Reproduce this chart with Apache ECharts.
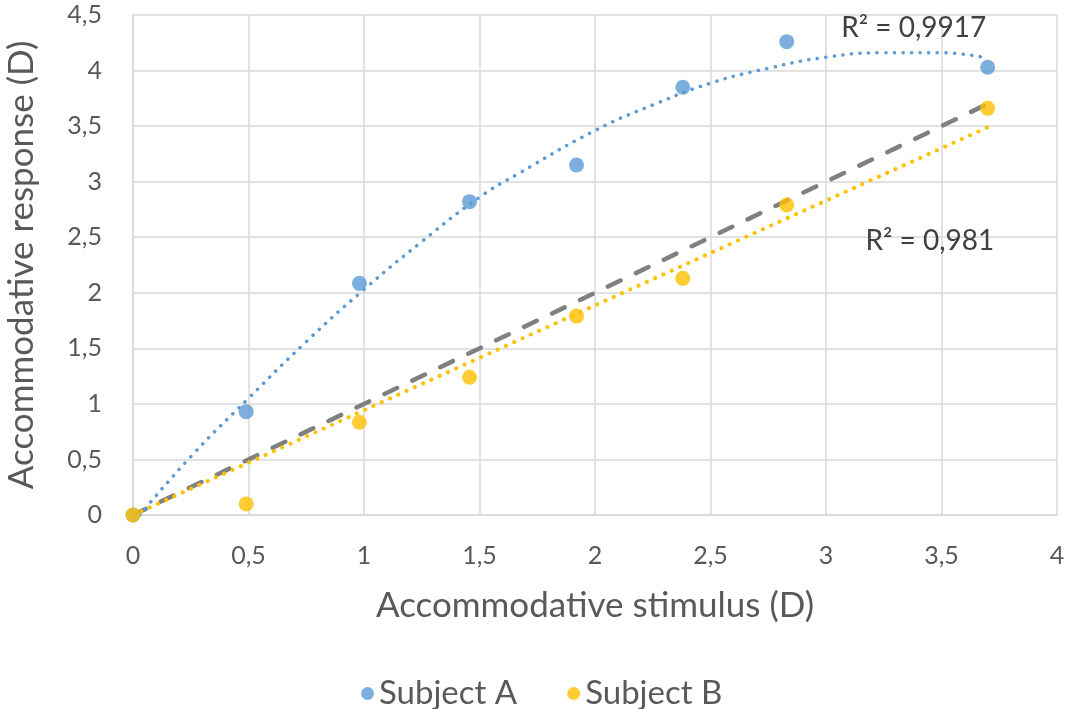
<!DOCTYPE html>
<html>
<head>
<meta charset="utf-8">
<script src="https://cdn.jsdelivr.net/npm/echarts@6/dist/echarts.min.js"></script>
<style>
html,body{margin:0;padding:0;background:#fff;}
#c{width:1066px;height:709px;}
</style>
</head>
<body>
<div id="c"></div>
<script>
// Data
const subjectA = [[0,0],[0.49,0.93],[0.98,2.085],[1.457,2.82],[1.92,3.15],[2.38,3.85],[2.83,4.26],[3.70,4.03]];
const subjectB = [[0,0],[0.49,0.10],[0.98,0.835],[1.457,1.24],[1.92,1.79],[2.38,2.13],[2.83,2.79],[3.70,3.66]];
const trendA = [[0.03,0.0],[0.25,0.525],[0.5,1.05],[0.75,1.56],[1.0,2.03],[1.25,2.46],[1.5,2.86],[1.675,3.08],[2.0,3.46],[2.25,3.69],[2.5,3.886],[2.75,4.02],[3.0,4.12],[3.25,4.16],[3.5,4.16],[3.7,4.11]];
const trendB = [[0,0],[3.7,3.49]];
const unityLine = [[0,0],[3.7,3.7]];
const r2A = 'R² = 0,9917';
const r2B = 'R² = 0,981';
const labelPosA = [3.38, 4.38];
const labelPosB = [3.45, 2.47];

const FONT = 'Lato, "Open Sans", sans-serif';
const fmt = v => String(v).replace('.', ',');

const chart = echarts.init(document.getElementById('c'), null, {renderer:'canvas'});
chart.setOption({
  animation:false,
  backgroundColor:'#fff',
  grid:{left:133,right:9,top:15,bottom:194,containLabel:false,outerBoundsMode:'none'},
  xAxis:{
    type:'value',min:0,max:4,interval:0.5,
    name:'Accommodative stimulus (D)',nameLocation:'middle',nameGap:73,
    nameTextStyle:{fontFamily:FONT,fontSize:35,color:'#595959'},
    axisLine:{show:true,lineStyle:{color:'#d9d9d9',width:1.5}},
    axisTick:{show:false},
    axisLabel:{formatter:fmt,fontFamily:FONT,fontSize:25,color:'#595959',margin:28},
    splitLine:{show:true,lineStyle:{color:'#d9d9d9',width:1.5}}
  },
  yAxis:{
    type:'value',min:0,max:4.5,interval:0.5,
    name:'Accommodative response (D)',nameLocation:'middle',nameGap:94,
    nameTextStyle:{fontFamily:FONT,fontSize:35,color:'#595959'},
    axisLine:{show:true,lineStyle:{color:'#d9d9d9',width:1.5}},
    axisTick:{show:false},
    axisLabel:{formatter:fmt,fontFamily:FONT,fontSize:25,color:'#595959',margin:31},
    splitLine:{show:true,lineStyle:{color:'#d9d9d9',width:1.5}}
  },
  legend:{
    data:['Subject A','Subject B'],top:672,left:356,
    icon:'circle',itemWidth:13,itemHeight:13,itemGap:50,
    textStyle:{fontFamily:FONT,fontSize:33,color:'#595959'}
  },
  series:[
    {name:'unity',type:'line',data:unityLine,symbol:'none',z:2,
     lineStyle:{color:'#808080',width:4.5,type:[14,17],cap:'round'}},
    {name:'trendA',type:'line',data:trendA,symbol:'none',smooth:true,z:2,
     lineStyle:{color:'#5b9bd5',width:3.5,type:[0.1,8.5],cap:'round'}},
    {name:'trendB',type:'line',data:trendB,symbol:'none',z:2,
     lineStyle:{color:'#ffc000',width:4,type:[0.1,9],cap:'round'}},
    {name:'Subject A',type:'scatter',data:subjectA,symbol:'circle',symbolSize:15,z:3,
     itemStyle:{color:'#5b9bd5'}},
    {name:'Subject B',type:'scatter',data:subjectB,symbol:'circle',symbolSize:15,z:3,
     itemStyle:{color:'#ffc000'}}
  ]
});
const pA = chart.convertToPixel({gridIndex:0}, labelPosA);
const pB = chart.convertToPixel({gridIndex:0}, labelPosB);
chart.setOption({
  graphic:[
    {type:'text',x:pA[0],y:pA[1],z:10,style:{text:r2A,fontFamily:FONT,fontSize:28,fill:'#404040',align:'center',verticalAlign:'middle'}},
    {type:'text',x:pB[0],y:pB[1],z:10,style:{text:r2B,fontFamily:FONT,fontSize:28,fill:'#404040',align:'center',verticalAlign:'middle'}}
  ]
});
</script>
</body>
</html>
